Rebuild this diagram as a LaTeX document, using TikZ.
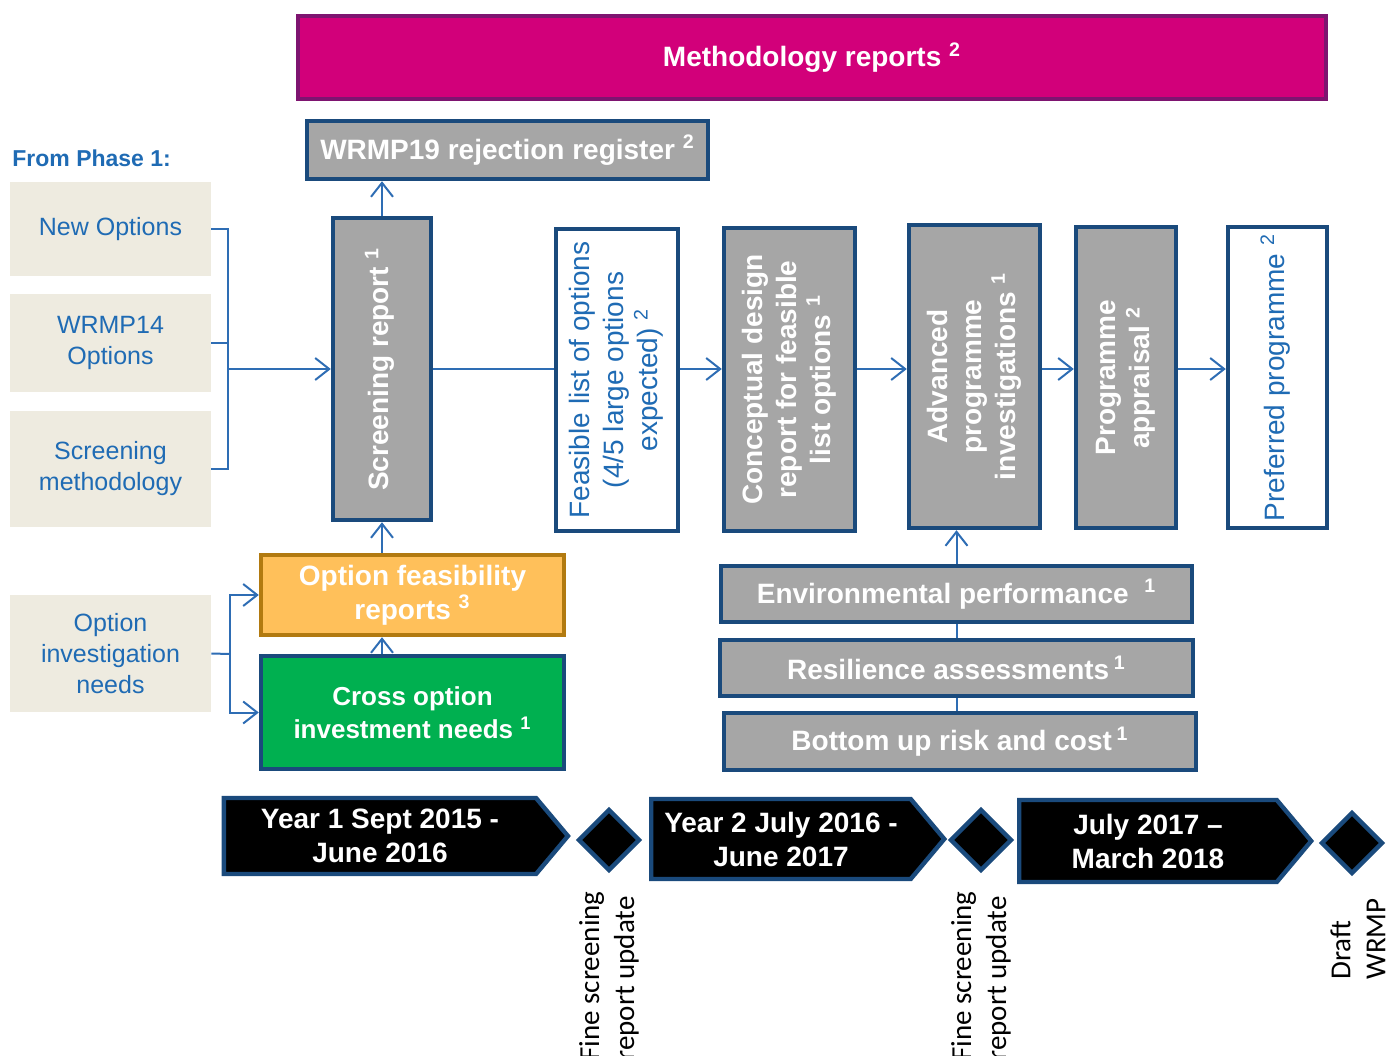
\documentclass[tikz,border=0pt]{standalone}
\usepackage{fontspec}
\setmainfont{Liberation Sans}
\newfontfamily\calibfont{Carlito}
\usetikzlibrary{arrows.meta,shapes.geometric,shapes.symbols}

\definecolor{magentafill}{HTML}{D2007A}
\definecolor{plumline}{HTML}{7E1470}
\definecolor{boxgray}{HTML}{A6A6A6}
\definecolor{navyline}{HTML}{1A4A7C}
\definecolor{textblue}{HTML}{1F6BB4}
\definecolor{linkblue}{HTML}{2E6DB4}
\definecolor{beige}{HTML}{EEEBE0}
\definecolor{amberfill}{HTML}{FFC05A}
\definecolor{amberline}{HTML}{B27A10}
\definecolor{greenfill}{HTML}{00B050}

\newcommand{\uptext}[1]{\rotatebox{90}{\begin{tabular}{@{}c@{}}#1\end{tabular}}}
\newcommand{\refmark}[1]{\textsuperscript{#1}}

\begin{document}
\begin{tikzpicture}[x=0.5pt,y=-0.5pt,
	every node/.style={font=\fontsize{14}{17}\selectfont\bfseries, text=white, inner sep=0pt},
	greybox/.style={draw=navyline, fill=boxgray, line width=2.2pt},
	whitebox/.style={draw=navyline, fill=white, line width=2.2pt, text=textblue, font=\fontsize{14}{17}\selectfont},
	beigebox/.style={fill=beige, text=textblue, font=\fontsize{12.5}{15.5}\selectfont, minimum width=100.5pt, align=center},
	yearbox/.style={signal, signal to=east, signal from=nowhere, signal pointer angle=100, draw=navyline, fill=black, line width=2.2pt, align=center},
	milestone/.style={diamond, draw=navyline, fill=black, line width=2.2pt, minimum width=31pt, minimum height=31pt},
	milelabel/.style={rotate=90, anchor=east, align=left, text=black, font=\calibfont\fontsize{14.5}{17.5}\selectfont},
	link/.style={draw=linkblue, line width=1pt},
	flow/.style={link, -{Straight Barb[length=7pt,width=11pt]}}]
	\useasboundingbox (0,0) rectangle (1389,1056);
	\clip (0,0) rectangle (1389,1056);

	\node[fill=magentafill, draw=plumline, line width=2.2pt, minimum width=514pt, minimum height=41.5pt] (meth) at (812,57.5) {Methodology reports \refmark{2}};
	\node[greybox, minimum width=200.5pt, minimum height=29pt] (rej) at (507.5,150) {WRMP19 rejection register \refmark{2}};
	\node[anchor=west, text=textblue, font=\fontsize{11.5}{14}\selectfont\bfseries] (phase) at (12,158) {From Phase 1:};

	\node[beigebox, minimum height=47pt] (newopt) at (110.5,229) {New Options};
	\node[beigebox, minimum height=49pt] (wrmpopt) at (110.5,343) {WRMP14\\Options};
	\node[beigebox, minimum height=58pt] (scrmeth) at (110.5,469) {Screening\\methodology};
	\node[beigebox, minimum height=58.5pt] (oin) at (110.5,653.5) {Option\\investigation\\needs};

	\node[greybox, minimum width=49pt, minimum height=151pt] (scr) at (382,369) {\uptext{Screening report \refmark{1}}};
	\node[whitebox, minimum width=61pt, minimum height=151pt] (feas) at (617,380) {\uptext{Feasible list of options\\(4/5 large options\\expected) \refmark{2}}};
	\node[greybox, minimum width=65.5pt, minimum height=151.5pt] (concept) at (789.5,379.5) {\uptext{Conceptual design\\report for feasible\\list options \refmark{1}}};
	\node[greybox, minimum width=65.5pt, minimum height=151.5pt] (adv) at (974.5,376.5) {\uptext{Advanced\\programme\\investigations \refmark{1}}};
	\node[greybox, minimum width=50pt, minimum height=150.5pt] (prog) at (1126,377.5) {\uptext{Programme\\appraisal \refmark{2}}};
	\node[whitebox, minimum width=49.5pt, minimum height=150.5pt] (pref) at (1277.5,377.5) {\uptext{Preferred programme \refmark{2}}};

	\node[fill=amberfill, draw=amberline, line width=2.2pt, minimum width=151.5pt, minimum height=40pt, align=center] (ofr) at (412.5,595) {Option feasibility\\reports \refmark{3}};
	\node[fill=greenfill, draw=navyline, line width=2.2pt, minimum width=151.5pt, minimum height=56.5pt, align=center, font=\fontsize{13}{16.5}\selectfont\bfseries] (cin) at (412.5,712.5) {Cross option\\investment needs \refmark{1}};
	\node[greybox, minimum width=235.5pt, minimum height=28pt] (env) at (956.5,594) {Environmental performance \ \refmark{1}};
	\node[greybox, minimum width=236.5pt, minimum height=28pt] (res) at (956.5,668) {Resilience assessments\,\refmark{1}};
	\node[greybox, minimum width=236pt, minimum height=28.5pt] (bru) at (960,741.5) {Bottom up risk and cost\,\refmark{1}};

	\node[yearbox, minimum width=172pt, minimum height=38pt] (yr1) at (380,836) {Year 1 Sept 2015 -\\June 2016};
	\node[yearbox, minimum width=146.5pt, minimum height=40pt] (yr2) at (781,839) {Year 2 July 2016 -\\June 2017};
	\node[yearbox, minimum width=146pt, minimum height=41pt] (yr3) at (1148,841) {July 2017 --\\March 2018};
	\node[milestone] (ms1) at (609,840) {};
	\node[milestone] (ms2) at (981,840) {};
	\node[milestone] (ms3) at (1352,843) {};
	\node[milelabel] (fine1) at (609,891) {Fine screening\\report update};
	\node[milelabel] (fine2) at (981,891) {Fine screening\\report update};
	\node[milelabel] (draft) at (1358,898) {Draft\\WRMP};

	\coordinate (join) at (228,369);
	\coordinate (split) at (230,654);
	\draw[link] (newopt.east) -| (join) |- (scrmeth.east);
	\draw[link] (wrmpopt.east) -| (join);
	\draw[flow] (join) -- (scr.west);
	\draw[flow] (scr.north) -- (scr.north |- rej.south);
	\draw[flow] (ofr.north -| scr.south) -- (scr.south);
	\draw[flow] (cin.north -| scr.south) -- (ofr.south -| scr.south);
	\draw[link] (oin.east) -- (split);
	\draw[flow] (split) |- (ofr.west);
	\draw[flow] (split) |- (cin.west);
	\draw[link] (scr.east) -- (feas.west |- scr.east);
	\draw[flow] (feas.east |- scr.east) -- (concept.west |- scr.east);
	\draw[flow] (concept.east |- scr.east) -- (adv.west |- scr.east);
	\draw[flow] (adv.east |- scr.east) -- (prog.west |- scr.east);
	\draw[flow] (prog.east |- scr.east) -- (pref.west |- scr.east);
	\draw[flow] (env.north) -- (env.north |- adv.south);
	\draw[link] (env.south) -- (env.south |- res.north);
	\draw[link] (res.south) -- (res.south |- bru.north);
\end{tikzpicture}
\end{document}
